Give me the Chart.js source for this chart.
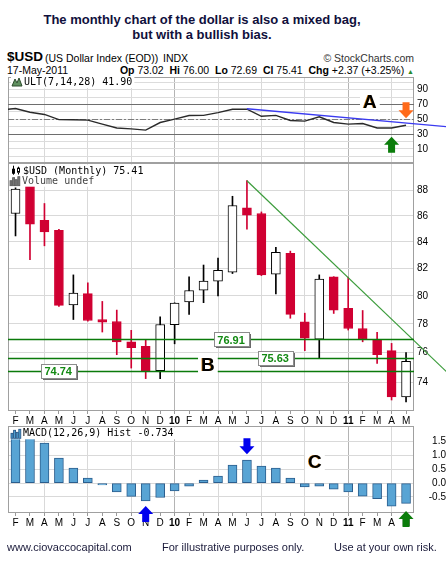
<!DOCTYPE html>
<html>
<head>
<meta charset="utf-8">
<script src="https://cdn.jsdelivr.net/npm/chart.js@4.4.1/dist/chart.umd.min.js"></script>
<style>
  html, body { margin: 0; padding: 0; background: #fff; }
  body { width: 446px; height: 566px; position: relative; overflow: hidden; font-family: "Liberation Sans", Arial, sans-serif; color: #000; }
  .t { position: absolute; white-space: nowrap; }
  canvas { position: absolute; left: 0; }
</style>
</head>
<body>
<div class="t" style="left:0;top:13px;width:404px;text-align:center;font:bold 13px/14.5px 'Liberation Sans';color:#10103c">The monthly chart of the dollar is also a mixed bag,<br>but with a bullish bias.</div>
<div class="t" style="left:7px;top:50px;font:bold 13.5px/14px 'Liberation Sans'">$USD</div>
<div class="t" style="left:45px;top:52px;font:10.5px/12px 'Liberation Sans'">(US Dollar Index (EOD))</div>
<div class="t" style="left:163px;top:52px;font:10.5px/12px 'Liberation Sans'">INDX</div>
<div class="t" style="right:32px;top:52px;font:10.5px/12px 'Liberation Sans';color:#333">© StockCharts.com</div>
<div class="t" style="left:7px;top:64px;font:10.5px/12px 'Liberation Sans'">17-May-2011</div>
<div class="t" style="right:32px;top:64px;font:10.5px/12px 'Liberation Sans'"><b>Op</b> 73.02 &nbsp;<b>Hi</b> 76.00 &nbsp;<b>Lo</b> 72.69 &nbsp;<b>Cl</b> 75.41 &nbsp;<b>Chg</b> +2.37 (+3.25%) <span style="color:#2a8a2a;font-size:7px">▲</span></div>

<canvas id="ult" width="446" height="93" style="top:70px"></canvas>
<canvas id="price" width="446" height="265" style="top:160px"></canvas>
<canvas id="macd" width="446" height="110" style="top:425px"></canvas>

<div class="t" style="left:7px;top:541px;font:11px/13px 'Liberation Sans';color:#1a1a3a">www.ciovaccocapital.com</div>
<div class="t" style="left:162px;top:541px;font:11px/13px 'Liberation Sans';color:#1a1a3a">For illustrative purposes only.</div>
<div class="t" style="left:334px;top:541px;font:11px/13px 'Liberation Sans';color:#1a1a3a">Use at your own risk.</div>

<script>
// months Feb 2009 .. May 2011
const months = ['F','M','A','M','J','J','A','S','O','N','D','10','F','M','A','M','J','J','A','S','O','N','D','11','F','M','A','M'];
const yearStarts = [11, 23];

// monthly candles
const opens  = [86.18, 88.37, 85.65, 84.88, 79.35, 80.16, 78.31, 78.17, 76.74, 76.44, 74.77, 77.94, 79.56, 80.42, 81.07, 81.73, 86.62, 86.18, 81.58, 83.13, 78.15, 76.94, 81.38, 79.10, 77.68, 76.87, 76.14, 73.02];
const highs  = [88.20, 88.50, 86.96, 84.95, 81.53, 80.95, 79.60, 78.98, 77.55, 76.87, 78.50, 79.50, 81.38, 82.26, 82.78, 87.53, 88.77, 86.30, 83.58, 83.30, 78.76, 81.53, 81.40, 81.36, 78.95, 77.41, 76.64, 76.00];
const lows   = [84.45, 82.66, 83.70, 79.25, 78.31, 78.20, 77.43, 75.86, 74.95, 74.24, 74.24, 76.61, 78.68, 79.51, 79.99, 81.63, 84.96, 81.48, 80.14, 78.40, 76.14, 75.63, 78.74, 77.57, 76.75, 75.26, 72.82, 72.69];
const closes = [88.11, 85.36, 84.75, 79.32, 80.20, 78.24, 78.12, 76.74, 76.35, 74.77, 77.96, 79.49, 80.39, 81.07, 81.87, 86.80, 86.05, 81.53, 83.20, 78.68, 77.00, 81.22, 78.97, 77.68, 76.91, 75.86, 73.02, 75.41];

// ULT(7,14,28), first value is Jan 2009 (just left of the panel)
const ultValues = [62.5, 64.5, 59.5, 56.5, 49.5, 49.3, 48.8, 43.5, 38.3, 37.0, 35.3, 45.6, 50.2, 55.0, 55.2, 59.0, 63.5, 63.7, 54.0, 55.2, 48.4, 47.5, 53.4, 45.6, 43.4, 44.3, 38.3, 38.3, 41.9];

// MACD(12,26,9) histogram
const macdHist = [1.62, 1.62, 1.44, 0.90, 0.54, 0.18, -0.07, -0.32, -0.48, -0.64, -0.52, -0.28, -0.11, 0.11, 0.25, 0.65, 0.83, 0.61, 0.54, 0.18, -0.14, -0.11, -0.22, -0.32, -0.47, -0.56, -0.83, -0.734];

// drawn levels and trend lines (month index, value)
const supportLevels = [76.91, 75.63, 74.74];
const ultLevels = [70, 30];
const ultMid = 50;
const priceTrendX = [16, 29.8];
const priceTrendY = [88.77, 74.70];
const ultTrendX = [16, 29.8];
const ultTrendY = [64.2, 40.0];

// tick labels
const priceTicks = [74, 76, 78, 80, 82, 84, 86, 88];
const ultGrid = [0, 10, 20, 30, 40, 50, 60, 70, 80, 90, 100];
const ultTicks = [90, 70, 50, 30, 10];
const macdTicks = [1.5, 1.0, 0.5, 0.0, -0.5];

const RED = '#d00032';
const FONT = '"Liberation Sans", Arial, sans-serif';
const MONO = '"DejaVu Sans Mono", monospace';
Chart.defaults.font.family = FONT;
Chart.defaults.font.size = 10;
Chart.defaults.color = '#000';

function gridColor(v) {
    if (yearStarts.includes(v)) return '#b4b4b4';
    if ((v + 1) % 3 === 0) return '#d9d9d9';
    return 'rgba(0,0,0,0)';
}

function xAxis(showLabels, height) {
    return {
        type: 'linear', min: -0.52, max: 27.55, offset: false,
        afterBuildTicks: s => { s.ticks = months.map((m, i) => ({ value: i })); },
        afterFit: s => { s.height = height; s.paddingLeft = 0; s.paddingRight = 0; },
        ticks: {
            display: showLabels, autoSkip: false, maxRotation: 0, minRotation: 0, padding: 1,
            callback: v => months[v],
            font: ctx => ({ family: FONT, size: 10, weight: (ctx.tick && yearStarts.includes(ctx.tick.value)) ? 'bold' : 'normal' })
        },
        grid: { offset: false, color: ctx => gridColor(ctx.tick ? ctx.tick.value : -1), drawTicks: showLabels, tickLength: 3, tickColor: '#9a9a9a' },
        border: { display: false }
    };
}

// right-hand value axis of fixed width, no extra padding for edge labels
function fitY(s) {
    s.width = 32;
    s.paddingTop = 0;
    s.paddingBottom = 0;
}

function frame(chart) {
    const { ctx, chartArea: a } = chart;
    ctx.save();
    ctx.strokeStyle = '#a0a0a0';
    ctx.lineWidth = 1;
    ctx.strokeRect(Math.round(a.left) + 0.5, Math.round(a.top) + 0.5, Math.round(a.right - a.left) - 1, Math.round(a.bottom - a.top) - 1);
    ctx.restore();
}

function hline(chart, value, color, width, dash) {
    const { ctx, chartArea: a } = chart;
    const y = Math.round(chart.scales.y.getPixelForValue(value)) + 0.5;
    ctx.save();
    ctx.strokeStyle = color;
    ctx.lineWidth = width;
    ctx.setLineDash(dash || []);
    ctx.beginPath();
    ctx.moveTo(a.left, y);
    ctx.lineTo(a.right, y);
    ctx.stroke();
    ctx.restore();
}

function arrow(ctx, x, tip, dir, color) {
    const s = dir === 'up' ? 1 : -1;
    ctx.save();
    ctx.fillStyle = color;
    ctx.beginPath();
    ctx.moveTo(x, tip);
    ctx.lineTo(x + 7.5, tip + s * 8);
    ctx.lineTo(x + 3.5, tip + s * 8);
    ctx.lineTo(x + 3.5, tip + s * 16);
    ctx.lineTo(x - 3.5, tip + s * 16);
    ctx.lineTo(x - 3.5, tip + s * 8);
    ctx.lineTo(x - 7.5, tip + s * 8);
    ctx.closePath();
    ctx.fill();
    ctx.restore();
}

function letter(ctx, x, y, ch) {
    ctx.save();
    ctx.font = 'bold 19px ' + FONT;
    const w = ctx.measureText(ch).width;
    ctx.fillStyle = '#fff';
    ctx.fillRect(x - w / 2 - 3, y - 9, w + 6, 18);
    ctx.textAlign = 'center';
    ctx.textBaseline = 'middle';
    ctx.fillStyle = '#e08a1a';
    ctx.fillText(ch, x - 0.8, y + 1);
    ctx.fillStyle = '#000';
    ctx.fillText(ch, x, y + 1);
    ctx.restore();
}

function valueBox(ctx, cx, cy, text) {
    ctx.save();
    ctx.font = 'bold 11px ' + FONT;
    const w = Math.round(ctx.measureText(text).width + 7), h = 14;
    const x = Math.round(cx - w / 2) + 0.5, y = Math.round(cy - h / 2) + 0.5;
    ctx.fillStyle = '#6a6a6a';
    ctx.fillRect(x + 1.5, y + 1.5, w, h);
    ctx.fillStyle = '#fff';
    ctx.fillRect(x, y, w, h);
    ctx.strokeStyle = '#8c8c8c';
    ctx.lineWidth = 1;
    ctx.strokeRect(x, y, w, h);
    ctx.fillStyle = '#138a13';
    ctx.textAlign = 'center';
    ctx.textBaseline = 'middle';
    ctx.fillText(text, cx, cy + 1);
    ctx.restore();
}

function tag(ctx, x, yMid, text, color, icon) {
    ctx.save();
    ctx.font = '10px ' + MONO;
    const w = ctx.measureText(text).width;
    ctx.fillStyle = '#fff';
    ctx.fillRect(x - 13, yMid - 6, w + 15, 12);
    icon(ctx, x - 12, yMid);
    ctx.fillStyle = color;
    ctx.textBaseline = 'middle';
    ctx.fillText(text, x, yMid + 0.5);
    ctx.restore();
}

function iconMountain(ctx, x, y) {
    ctx.fillStyle = '#5f8f5f';
    ctx.strokeStyle = '#2d4d2d';
    ctx.lineWidth = 1;
    ctx.beginPath();
    ctx.moveTo(x, y + 4);
    ctx.lineTo(x + 3, y - 3);
    ctx.lineTo(x + 5, y + 1);
    ctx.lineTo(x + 7, y - 4);
    ctx.lineTo(x + 10, y + 4);
    ctx.closePath();
    ctx.fill();
    ctx.stroke();
}

function iconCandles(ctx, x, y) {
    ctx.strokeStyle = '#000';
    ctx.fillStyle = '#000';
    ctx.lineWidth = 1;
    ctx.beginPath();
    ctx.moveTo(x + 2.5, y - 5); ctx.lineTo(x + 2.5, y + 5);
    ctx.moveTo(x + 7.5, y - 4); ctx.lineTo(x + 7.5, y + 4);
    ctx.stroke();
    ctx.fillRect(x + 1, y - 2, 3, 5);
    ctx.fillStyle = '#fff';
    ctx.fillRect(x + 6, y - 2, 3, 4);
    ctx.strokeRect(x + 6.5, y - 2.5, 2, 4);
}

function iconBars(fill, stroke) {
    return (ctx, x, y) => {
        const hs = [5, 8, 6, 9];
        ctx.fillStyle = fill;
        ctx.strokeStyle = stroke;
        ctx.lineWidth = 0.8;
        hs.forEach((h, k) => {
            ctx.fillRect(x + k * 2.6, y + 5 - h, 2, h);
            ctx.strokeRect(x + k * 2.6, y + 5 - h, 2, h);
        });
    };
}

// ULT panel
const ultDecor = {
    id: 'ultDecor',
    beforeDatasetsDraw(chart) {
        frame(chart);
        ultLevels.forEach(v => hline(chart, v, '#6e6e6e', 1));
        hline(chart, ultMid, '#7c7c7c', 1, [6, 2, 2, 2]);
    },
    afterDatasetsDraw(chart) {
        const { ctx, chartArea: a, scales: { x, y } } = chart;
        tag(ctx, a.left + 16, a.top + 5, 'ULT(7,14,28) ' + ultValues[ultValues.length - 1].toFixed(2), '#000', iconMountain);
        letter(ctx, x.getPixelForValue(24.5), y.getPixelForValue(73.7), 'A');
        arrow(ctx, x.getPixelForValue(27), y.getPixelForValue(51.3), 'down', '#ff6a1a');
        arrow(ctx, x.getPixelForValue(26), y.getPixelForValue(26.5), 'up', '#0b7d0b');
    }
};

new Chart(document.getElementById('ult'), {
    type: 'line',
    data: {
        datasets: [
            { data: ultTrendX.map((v, k) => ({ x: v, y: ultTrendY[k] })), borderColor: '#3b3bf0', borderWidth: 1.3, pointRadius: 0, clip: false, order: 0 },
            { data: ultValues.map((v, k) => ({ x: k - 1, y: v })), borderColor: '#2a2a2a', borderWidth: 1.4, pointRadius: 0, order: 1 }
        ]
    },
    options: {
        responsive: false, animation: false,
        layout: { padding: { left: 8, right: 0, top: 7, bottom: 0 } },
        plugins: { legend: { display: false }, tooltip: { enabled: false } },
        scales: {
            x: xAxis(false, 0),
            y: {
                type: 'linear', position: 'right', min: -9, max: 107,
                afterBuildTicks: s => { s.ticks = ultGrid.map(v => ({ value: v })); },
                afterFit: fitY,
                ticks: { padding: 3, autoSkip: false, callback: v => ultTicks.includes(v) ? String(v) : '' },
                grid: { color: '#dcdcdc', drawTicks: false },
                border: { display: false }
            }
        }
    },
    plugins: [ultDecor]
});

// price panel
const isUp = opens.map((o, i) => closes[i] >= o);
const priceDecor = {
    id: 'priceDecor',
    beforeDatasetsDraw(chart) { frame(chart); },
    afterDatasetsDraw(chart) {
        const { ctx, chartArea: a, scales: { x, y } } = chart;
        supportLevels.forEach(v => hline(chart, v, '#0a7a0a', 1.3));
        const tagAt = [14.9, 17.95, 2.95];
        supportLevels.forEach((v, k) => valueBox(ctx, x.getPixelForValue(tagAt[k]), y.getPixelForValue(v), v.toFixed(2)));
        letter(ctx, x.getPixelForValue(13.3), y.getPixelForValue(75.15), 'B');
        tag(ctx, a.left + 15, a.top + 7.7, '$USD (Monthly) ' + closes[closes.length - 1].toFixed(2), '#000', iconCandles);
        tag(ctx, a.left + 14, a.top + 17.7, 'Volume undef', '#444', iconBars('#777', '#555'));
    }
};

new Chart(document.getElementById('price'), {
    type: 'bar',
    data: {
        datasets: [
            { type: 'line', data: priceTrendX.map((v, k) => ({ x: v, y: priceTrendY[k] })), borderColor: '#3c9c3c', borderWidth: 1.2, pointRadius: 0, clip: false, order: 0 },
            { data: months.map((m, i) => ({ x: i, y: [opens[i], closes[i]] })), backgroundColor: isUp.map(u => u ? '#ffffff' : RED), borderColor: isUp.map(u => u ? '#000000' : RED), borderWidth: 1, borderSkipped: false, barThickness: 9, grouped: false, order: 1 },
            { data: months.map((m, i) => ({ x: i, y: [lows[i], highs[i]] })), backgroundColor: isUp.map(u => u ? '#000000' : RED), borderWidth: 0, barThickness: 1, grouped: false, order: 2 }
        ]
    },
    options: {
        responsive: false, animation: false,
        layout: { padding: { left: 8, right: 0, top: 3, bottom: 0 } },
        plugins: { legend: { display: false }, tooltip: { enabled: false } },
        scales: {
            x: xAxis(true, 14),
            y: {
                type: 'logarithmic', position: 'right', min: 72.1, max: 90.2,
                afterBuildTicks: s => { s.ticks = priceTicks.map(v => ({ value: v })); },
                afterFit: fitY,
                ticks: { padding: 3, autoSkip: false, callback: v => String(v) },
                grid: { color: '#d9d9d9', drawTicks: false },
                border: { display: false }
            }
        }
    },
    plugins: [priceDecor]
});

// MACD panel
const macdDecor = {
    id: 'macdDecor',
    beforeDatasetsDraw(chart) { frame(chart); },
    afterDatasetsDraw(chart) {
        const { ctx, chartArea: a, scales: { x, y } } = chart;
        tag(ctx, a.left + 15, a.top + 7.3, 'MACD(12,26,9) Hist ' + macdHist[macdHist.length - 1].toFixed(3), '#000', iconBars('#4f9fd0', '#1f4f80'));
        letter(ctx, x.getPixelForValue(20.7), y.getPixelForValue(0.76), 'C');
        arrow(ctx, x.getPixelForValue(16), y.getPixelForValue(1.04), 'down', '#0000ee');
        arrow(ctx, x.getPixelForValue(9), y.getPixelForValue(-0.83), 'up', '#0000ee');
        arrow(ctx, x.getPixelForValue(27), y.getPixelForValue(-1.01), 'up', '#0b7d0b');
    }
};

new Chart(document.getElementById('macd'), {
    type: 'bar',
    data: {
        datasets: [
            { data: macdHist.map((v, i) => ({ x: i, y: v })), backgroundColor: '#58a4d4', borderColor: '#2b5e8e', borderWidth: 1, borderSkipped: false, barThickness: 9 }
        ]
    },
    options: {
        responsive: false, animation: false,
        layout: { padding: { left: 8, right: 0, top: 1, bottom: 0 } },
        plugins: { legend: { display: false }, tooltip: { enabled: false } },
        scales: {
            x: xAxis(true, 22),
            y: {
                type: 'linear', position: 'right', min: -1.08, max: 2.06,
                afterBuildTicks: s => { s.ticks = macdTicks.map(v => ({ value: v })); },
                afterFit: fitY,
                ticks: { padding: 2, autoSkip: false, crossAlign: 'far', callback: v => v.toFixed(1) },
                grid: { color: '#d9d9d9', drawTicks: false },
                border: { display: false }
            }
        }
    },
    plugins: [macdDecor]
});
</script>
</body>
</html>
